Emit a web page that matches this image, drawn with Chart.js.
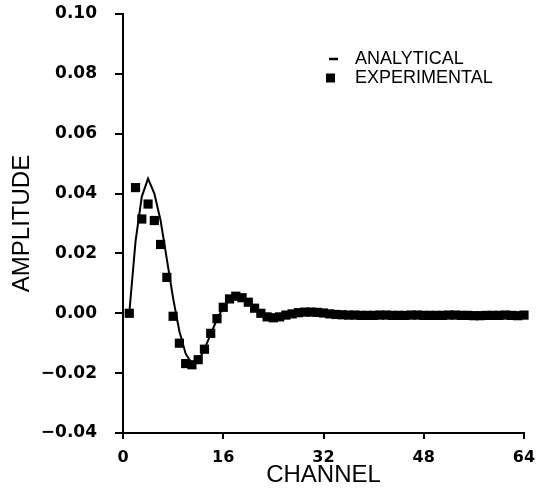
<!DOCTYPE html>
<html>
<head>
<meta charset="utf-8">
<script src="https://cdn.jsdelivr.net/npm/chart.js@4/dist/chart.umd.min.js"></script>
<style>
html,body{margin:0;padding:0;background:#fff;}
#wrap{width:543px;height:496px;position:relative;}
</style>
</head>
<body>
<div id="wrap"><canvas id="c"></canvas></div>
<script>
const xTicks = [0, 16, 32, 48, 64];
const yTicks = [-0.04, -0.02, 0.00, 0.02, 0.04, 0.06, 0.08, 0.10];

const analyticalChannels = [1,2,3,4,5,6,7,8,9,10,11,12,13,14,15,16,17,18,19,20,21,22,23,24,25,26,27,28,29,30,31,32,
  33,34,35,36,37,38,39,40,41,42,43,44,45,46,47,48,49,50,51,52,53,54,55,56,57,58,59,60,61,62,63,64];
const analyticalValues = [0.000,0.024,0.039,0.045,0.040,0.031,0.018,0.005,-0.006,-0.0135,-0.0168,-0.0162,-0.012,-0.007,-0.002,0.002,
  0.0045,0.0055,0.005,0.0035,0.0015,0.000,-0.001,-0.0014,-0.001,-0.0005,-0.0002,0.0002,0.0003,0.0003,0.0002,0.000,
  0,0,0,0,0,0,0,0,0,0,0,0,0,0,0,0,0,0,0,0,0,0,0,0,0,0,0,0,0,0,0,0];

const experimentalChannels = [1,2,3,4,5,6,7,8,9,10,11,12,13,14,15,16,17,18,19,20,21,22,23,24,25,26,27,28,29,30,31,32,
  33,34,35,36,37,38,39,40,41,42,43,44,45,46,47,48,49,50,51,52,53,54,55,56,57,58,59,60,61,62,63,64];
const experimentalValues = [0.000,0.042,0.0315,0.0365,0.031,0.023,0.012,-0.001,-0.010,-0.0168,-0.0172,-0.0155,-0.012,-0.0067,-0.0018,0.002,
  0.0048,0.0057,0.0052,0.0037,0.0017,0.000,-0.0012,-0.0015,-0.0012,-0.0006,-0.0002,0.0002,0.0004,0.0004,0.0003,0.0001,
  -0.0002,-0.0004,-0.0005,-0.0006,-0.0006,-0.0007,-0.0007,-0.0007,-0.0006,-0.0006,-0.0007,-0.0007,-0.0007,-0.0006,-0.0006,-0.0007,
  -0.0007,-0.0007,-0.0007,-0.0006,-0.0006,-0.0007,-0.0007,-0.0008,-0.0008,-0.0007,-0.0007,-0.0007,-0.0006,-0.0007,-0.0008,-0.0006];

const seriesLabels = ['ANALYTICAL', 'EXPERIMENTAL'];
const xTitle = 'CHANNEL';
const yTitle = 'AMPLITUDE';

const toXY = (xs, ys) => xs.map((x, i) => ({x: x, y: ys[i]}));

const legendPlugin = {
  id: 'customLegend',
  afterDraw(chart) {
    const ctx = chart.ctx;
    const a = chart.chartArea;
    const x0 = a.left + 206;
    const y1 = a.top + 45, y2 = a.top + 64;
    ctx.save();
    ctx.fillStyle = '#000';
    ctx.strokeStyle = '#000';
    ctx.lineWidth = 2.5;
    ctx.beginPath();
    ctx.moveTo(x0, y1);
    ctx.lineTo(x0 + 9, y1);
    ctx.stroke();
    ctx.fillRect(x0 - 3, y2 - 4.5, 9, 9);
    ctx.font = '18px "Liberation Sans", Arial, sans-serif';
    ctx.textBaseline = 'middle';
    ctx.textAlign = 'left';
    ctx.fillText(chart.data.datasets[0].label, x0 + 26, y1);
    ctx.fillText(chart.data.datasets[1].label, x0 + 26, y2);
    ctx.restore();
  }
};

new Chart(document.getElementById('c'), {
  type: 'scatter',
  data: {
    datasets: [
      {
        label: seriesLabels[0],
        data: toXY(analyticalChannels, analyticalValues),
        showLine: true,
        borderColor: '#000',
        borderWidth: 2,
        pointRadius: 0,
        tension: 0,
        clip: false,
        order: 2
      },
      {
        label: seriesLabels[1],
        data: toXY(experimentalChannels, experimentalValues),
        showLine: false,
        pointStyle: 'rect',
        pointRadius: 6.5,
        backgroundColor: '#000',
        borderColor: '#000',
        borderWidth: 0,
        clip: false,
        order: 1
      }
    ]
  },
  options: {
    responsive: true,
    maintainAspectRatio: false,
    animation: false,
    layout: {padding: {left: 0, top: 14, right: 19, bottom: 0}},
    plugins: {legend: {display: false}, tooltip: {enabled: false}},
    scales: {
      x: {
        type: 'linear',
        min: 0, max: 64,
        afterFit(s) { s.height = 63; s.paddingLeft = 0; s.paddingRight = 0; },
        afterBuildTicks(s) { s.ticks = xTicks.map(v => ({value: v})); },
        border: {display: true, color: '#000', width: 2},
        grid: {drawOnChartArea: false, drawTicks: true, tickLength: 6, color: '#000', lineWidth: 2},
        ticks: {
          color: '#000', padding: 9, maxRotation: 0,
          font: {family: '"DejaVu Sans", sans-serif', size: 16, weight: 'bold'},
          callback: v => String(v)
        },
        title: {
          display: true, text: xTitle, color: '#000',
          font: {family: '"Liberation Sans", Arial, sans-serif', size: 24},
          padding: {top: 0, bottom: 6}
        }
      },
      y: {
        type: 'linear',
        min: -0.04, max: 0.10,
        afterFit(s) { s.width = 123; s.paddingTop = 0; s.paddingBottom = 0; },
        afterBuildTicks(s) { s.ticks = yTicks.map(v => ({value: v})); },
        border: {display: true, color: '#000', width: 2},
        grid: {drawOnChartArea: false, drawTicks: true, tickLength: 8, color: '#000', lineWidth: 2},
        ticks: {
          color: '#000', padding: 18,
          font: {family: '"DejaVu Sans", sans-serif', size: 17, weight: 'bold'},
          callback: v => v.toFixed(2).replace('-', '\u2212')
        },
        title: {
          display: true, text: yTitle, color: '#000',
          font: {family: '"Liberation Sans", Arial, sans-serif', size: 24},
          padding: {top: 8, bottom: 0}
        }
      }
    }
  },
  plugins: [legendPlugin]
});
</script>
</body>
</html>
